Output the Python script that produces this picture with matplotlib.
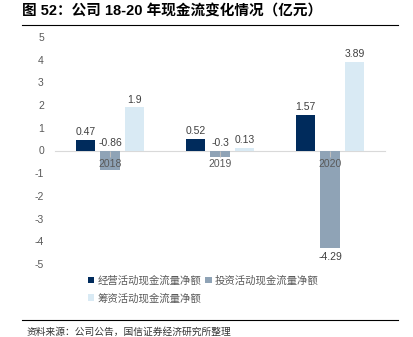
import matplotlib
matplotlib.use("Agg")
import matplotlib.pyplot as plt
import numpy as np
from matplotlib.lines import Line2D

plt.rcParams['font.family'] = ['Liberation Sans', 'Noto Sans CJK SC', 'DejaVu Sans']

years = ["2018", "2019", "2020"]
series_names = ["经营活动现金流量净额", "投资活动现金流量净额", "筹资活动现金流量净额"]
operating = [0.47, 0.52, 1.57]
investing = [-0.86, -0.3, -4.29]
financing = [1.9, 0.13, 3.89]
yticks = [5, 4, 3, 2, 1, 0, -1, -2, -3, -4, -5]
colors = ["#002B5C", "#8FA3B6", "#D9EAF4"]

W, H = 413, 337
fig = plt.figure(figsize=(W / 100, H / 100), dpi=100)

def fx(px):
    return px / W

def fy(py):
    return 1 - py / H

# Title and rules
fig.text(fx(22), fy(12), "图 52：公司 18-20 年现金流变化情况（亿元）", fontsize=10.5,
         fontweight='bold', va='center', ha='left', color='black')
fig.add_artist(Line2D([fx(22), fx(398)], [fy(25), fy(25)], color='black', lw=0.8))
fig.add_artist(Line2D([fx(22), fx(398)], [fy(320), fy(320)], color='black', lw=0.8))
fig.text(fx(27), fy(332), "资料来源：公司公告，国信证券经济研究所整理", fontsize=7,
         va='center', ha='left', color='#333333')

ax = fig.add_axes([fx(55), fy(264), fx(385) - fx(55), fy(37) - fy(264)])
x = np.arange(len(years))
bw = 0.173
step = 0.222
data = [operating, investing, financing]
handles = []
for i, (vals, c) in enumerate(zip(data, colors)):
    pos = x + (i - 1) * step
    b = ax.bar(pos, vals, width=bw, color=c, zorder=1, label=series_names[i])
    handles.append(b)
    for p, v in zip(pos, vals):
        if v < -1:
            ax.text(p, v - 0.2, f"{v:g}", ha='center', va='top', fontsize=7.5, color='#404040')
        else:
            ax.text(p, max(v, 0) + 0.12, f"{v:g}", ha='center', va='bottom', fontsize=7.5, color='#404040')

ax.set_axisbelow(False)
ax.set_xlim(-0.5, 2.5)
ax.set_ylim(-5, 5)
ax.set_yticks(yticks)
ax.set_yticklabels([str(t) for t in yticks])
ax.set_xticks(x)
ax.set_xticklabels(years)
for s in ['top', 'right', 'left']:
    ax.spines[s].set_visible(False)
ax.spines['bottom'].set_position(('data', 0))
ax.spines['bottom'].set_color('#D9D9D9')
ax.spines['bottom'].set_zorder(0.5)
ax.tick_params(axis='y', length=0, pad=8, labelsize=7.5, labelcolor='#595959')
ax.tick_params(axis='x', length=4, color='#BFBFBF', pad=2, labelsize=7.5, labelcolor='#595959')

order = [0, 2, 1]
fig.legend([handles[k] for k in order], [series_names[k] for k in order],
           loc='upper left', bbox_to_anchor=(fx(84), fy(271)), ncol=2,
           frameon=False, fontsize=7.5, labelcolor='#595959', handlelength=0.6, handleheight=0.6,
           handletextpad=0.3, columnspacing=0.4, labelspacing=0.7, borderaxespad=0)

fig.savefig("out.png", dpi=100)
